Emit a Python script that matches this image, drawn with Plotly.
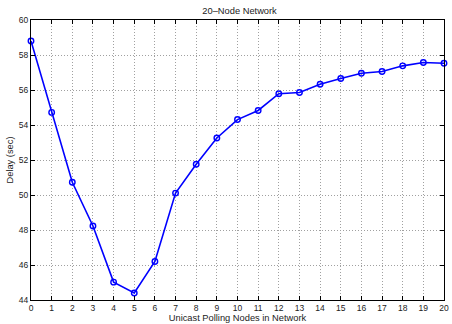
import plotly.graph_objects as go

# Delay versus number of unicast polling nodes (20-node network)
polling_nodes = list(range(0, 21))
delay_sec = [58.80, 54.72, 50.73, 48.23, 45.02, 44.40, 46.20, 50.11, 51.76, 53.26,
             54.31, 54.83, 55.79, 55.86, 56.33, 56.66, 56.96, 57.06, 57.38, 57.57, 57.53]

x_ticks = list(range(0, 21))
y_ticks = [44, 46, 48, 50, 52, 54, 56, 58, 60]

family = "Liberation Sans, Arial, sans-serif"
tick_font = dict(family=family, size=8.5, color="#222")
label_font = dict(family=family, size=9.3, color="#222")

fig = go.Figure()
fig.add_trace(go.Scatter(
    x=polling_nodes, y=delay_sec, mode="lines+markers",
    line=dict(color="#0000ff", width=1.6),
    marker=dict(symbol="circle-open", size=5.5, color="#0000ff", line=dict(width=1.4)),
    cliponaxis=False, showlegend=False,
))

axis_common = dict(
    showline=True, linecolor="black", linewidth=1, mirror="ticks",
    ticks="inside", ticklen=4, tickcolor="black",
    showgrid=True, gridcolor="#a0a0a0", griddash="1px,2px", gridwidth=1,
    zeroline=False, tickfont=tick_font, ticklabeloverflow="allow",
)

fig.update_layout(
    width=452, height=324,
    margin=dict(l=31, r=3, t=20, b=23),
    paper_bgcolor="white", plot_bgcolor="white",
    font=tick_font,
    title=dict(text="20\u2013Node Network", x=0.53, xanchor="center", y=0.968, yanchor="middle",
               font=label_font),
    xaxis=dict(range=[0, 20], tickvals=x_ticks,
               title=dict(text="Unicast Polling Nodes in Network", standoff=1,
                          font=label_font), **axis_common),
    yaxis=dict(range=[44, 60], tickvals=y_ticks,
               title=dict(text="Delay (sec)", standoff=3, font=label_font), **axis_common),
)

fig.write_html("out.html")
